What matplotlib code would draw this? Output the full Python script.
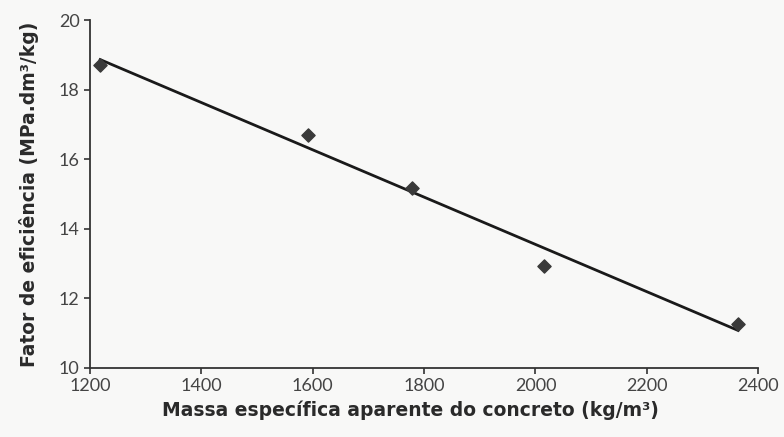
# ==========================================================
# Fator de eficiência vs massa específica do concreto
# ==========================================================

import numpy as np
import matplotlib.pyplot as plt


# ==========================================================
# Data
# ==========================================================

massa = [1218, 1592, 1779, 2015, 2364]

fator = [18.71, 16.70, 15.17, 12.93, 11.26]

x_ticks = [1200, 1400, 1600, 1800, 2000, 2200, 2400]

y_ticks = [10, 12, 14, 16, 18, 20]


# ==========================================================
# Linear fit
# ==========================================================

coef = np.polyfit(massa, fator, 1)

x_fit = np.array([min(massa), max(massa)])

y_fit = np.polyval(coef, x_fit)


# ==========================================================
# Plot
# ==========================================================

plt.rcParams["font.family"] = ["Lato", "DejaVu Sans"]

fig = plt.figure(figsize=(7.84, 4.37), dpi=100, facecolor="#f8f8f7")

ax = fig.add_axes([0.115, 0.158, 0.852, 0.796])
ax.set_facecolor("#f8f8f7")

ax.plot(x_fit, y_fit, color="#1a1a1a", linewidth=2.0)

ax.scatter(
    massa,
    fator,
    marker="D",
    s=45,
    color="#3a3a3a",
    zorder=3
)

ax.set_xlim(1200, 2400)
ax.set_ylim(10, 20)

ax.set_xticks(x_ticks)
ax.set_yticks(y_ticks)

ax.spines["top"].set_visible(False)
ax.spines["right"].set_visible(False)
ax.spines["left"].set_color("#333333")
ax.spines["bottom"].set_color("#333333")
ax.spines["left"].set_linewidth(1.3)
ax.spines["bottom"].set_linewidth(1.3)

ax.tick_params(
    direction="out",
    length=4,
    width=1.2,
    colors="#333333",
    labelsize=13,
    labelcolor="#444444"
)

ax.set_xlabel(
    "Massa específica aparente do concreto (kg/m³)",
    fontsize=13.5,
    fontweight="bold",
    family="DejaVu Sans",
    color="#2a2a2a"
)
ax.xaxis.set_label_coords(0.479, -0.095)

ax.set_ylabel(
    "Fator de eficiência (MPa.dm³/kg)",
    fontsize=13.5,
    fontweight="bold",
    family="DejaVu Sans",
    color="#2a2a2a",
    labelpad=14
)

plt.savefig("out.png", dpi=100, facecolor=fig.get_facecolor())
